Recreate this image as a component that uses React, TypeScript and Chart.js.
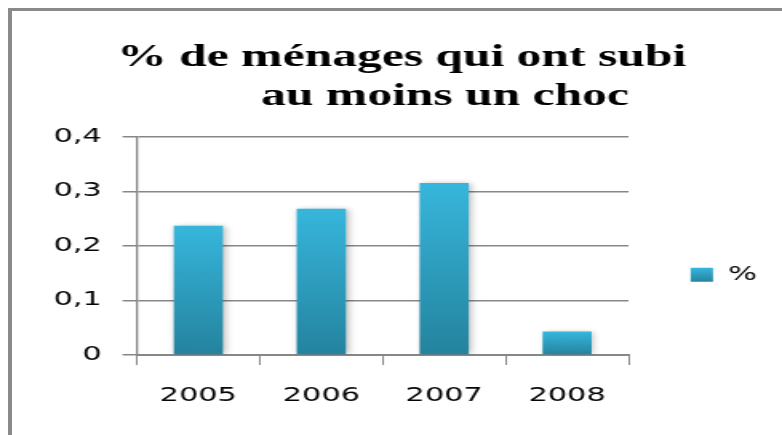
import React, { useEffect, useRef } from "react";
import { Chart, registerables } from "chart.js";

Chart.register(...registerables);

const categories = ["2005", "2006", "2007", "2008"];
const values = [0.237, 0.268, 0.315, 0.043];
const seriesLabel = "%";
const yTickLabels = ["0", "0,1", "0,2", "0,3", "0,4"];
const titleLines = ["% de ménages qui ont subi", "       au moins un choc"];

const STRETCH = 1.6;
const OUT_W = 782;
const OUT_H = 435;
const LOG_W = Math.round(OUT_W / STRETCH);

const TOP_COLOR = "#37b6dc";
const BOTTOM_COLOR = "#24839e";
const GRID = "#878787";
const TEXT = "#050505";

export default function App() {
  const ref = useRef<HTMLCanvasElement | null>(null);

  useEffect(() => {
    const canvas = ref.current;
    if (!canvas) return;

    const shadowPlugin = {
      id: "barShadow",
      beforeDatasetsDraw(chart: any) {
        const c = chart.ctx;
        c.save();
        c.shadowColor = "rgba(0,0,0,0.28)";
        c.shadowBlur = 5;
        c.shadowOffsetX = 1.5;
        c.shadowOffsetY = 0;
      },
      afterDatasetsDraw(chart: any) {
        chart.ctx.restore();
      },
    };

    const legendGradientPlugin = {
      id: "legendGradient",
      afterUpdate(chart: any) {
        const lg = chart.legend;
        if (!lg || !lg.legendItems || !lg.legendHitBoxes) return;
        const hb = lg.legendHitBoxes[0];
        const item = lg.legendItems[0];
        if (!hb || !item) return;
        const bh = 14;
        const top = hb.top + (hb.height - bh) / 2;
        const g = chart.ctx.createLinearGradient(0, top, 0, top + bh);
        g.addColorStop(0, TOP_COLOR);
        g.addColorStop(1, BOTTOM_COLOR);
        item.fillStyle = g;
        item.strokeStyle = "rgba(0,0,0,0)";
        item.lineWidth = 0;
      },
    };

    const chart = new Chart(canvas, {
      type: "bar",
      data: {
        labels: categories,
        datasets: [
          {
            label: seriesLabel,
            data: values,
            backgroundColor: (ctx: any) => {
              const ch = ctx.chart;
              if (ctx.type !== "data" || !ch.chartArea || !ch.scales || !ch.scales.y) {
                return "#2fa2c4";
              }
              const y = ch.scales.y;
              const yTop = y.getPixelForValue(ctx.raw);
              const yBot = y.getPixelForValue(0);
              const g = ch.ctx.createLinearGradient(0, yTop, 0, yBot);
              g.addColorStop(0, TOP_COLOR);
              g.addColorStop(1, BOTTOM_COLOR);
              return g;
            },
            borderWidth: 0,
            barPercentage: 0.4,
            categoryPercentage: 1,
          },
        ],
      },
      options: {
        responsive: false,
        animation: false,
        devicePixelRatio: 1,
        layout: { padding: { top: 0, left: 19, right: 5.6, bottom: 0 } },
        plugins: {
          title: {
            display: true,
            text: titleLines,
            color: "#000",
            font: { family: "'Liberation Serif', serif", size: 31, weight: "bold", lineHeight: 1.24 },
            padding: { top: 39.25, bottom: 20.6 },
          },
          legend: {
            display: true,
            position: "right",
            align: "center",
            fullSize: false,
            title: {
              display: true,
              text: " ",
              font: { size: 10, lineHeight: 1.2 },
              padding: { top: 46, bottom: 0 },
            },
            labels: {
              boxWidth: 14,
              boxHeight: 14,
              padding: 38.8,
              color: TEXT,
              font: { family: "'DejaVu Sans', sans-serif", size: 19 },
            },
          },
          tooltip: { enabled: false },
        },
        scales: {
          x: {
            offset: true,
            grid: {
              display: true,
              offset: true,
              drawOnChartArea: false,
              drawTicks: true,
              tickLength: 10,
              color: GRID,
              lineWidth: 1,
            },
            border: { display: true, color: GRID, width: 2 },
            ticks: {
              color: TEXT,
              padding: 20,
              font: { family: "'DejaVu Sans', sans-serif", size: 19 },
              maxRotation: 0,
            },
            afterFit(scale: any) {
              scale.height = 80;
            },
          },
          y: {
            min: 0,
            max: 0.4,
            grid: {
              display: true,
              color: GRID,
              lineWidth: 1.5,
              tickLength: 9,
            },
            border: { display: true, color: GRID, width: 1.3 },
            ticks: {
              stepSize: 0.1,
              color: TEXT,
              padding: 13,
              font: { family: "'DejaVu Sans', sans-serif", size: 19 },
              callback: (_v: any, i: number) => yTickLabels[i] ?? String(_v),
            },
            afterFit(scale: any) {
              scale.width = 85.6 - 19;
            },
          },
        },
      },
      plugins: [shadowPlugin, legendGradientPlugin],
    });
    chart.update();

    return () => chart.destroy();
  }, []);

  return (
    <div
      style={{
        position: "fixed",
        left: 0,
        top: 0,
        width: OUT_W,
        height: OUT_H,
        overflow: "hidden",
        background: "#fff",
      }}
    >
      <div
        style={{
          position: "absolute",
          left: 8,
          top: 8,
          right: 0,
          bottom: 0,
          borderLeft: "4px solid #8a8a8a",
          borderTop: "3px solid #8a8a8a",
        }}
      />
      <canvas
        ref={ref}
        width={LOG_W}
        height={OUT_H}
        style={{ position: "absolute", left: 0, top: 0, width: OUT_W + "px", height: OUT_H + "px" }}
      />
    </div>
  );
}
